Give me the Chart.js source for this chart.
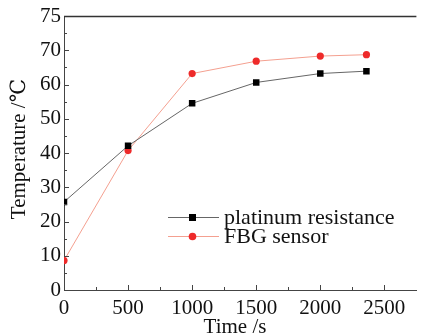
<!DOCTYPE html>
<html>
<head>
<meta charset="utf-8">
<script src="https://cdn.jsdelivr.net/npm/chart.js@4"></script>
<style>
  html, body { margin: 0; padding: 0; background: #fff; }
  #wrap { width: 421px; height: 336px; }
</style>
</head>
<body>
<div id="wrap"><canvas id="chart" width="421" height="336"></canvas></div>
<script>
// Data
const timeSec = [0, 500, 1000, 1500, 2000, 2360];
const platinumTemp = [25.7, 42.1, 54.5, 60.6, 63.2, 63.9];
const fbgTemp = [8.6, 40.7, 63.2, 66.8, 68.3, 68.7];
const yTickValues = [0, 10, 20, 30, 40, 50, 60, 70, 80];
const yTickLabels = ['0', '10', '20', '30', '40', '50', '60', '70', '75'];
const xTickValues = [0, 500, 1000, 1500, 2000, 2500];
const xTickLabels = ['0', '500', '1000', '1500', '2000', '2500'];

const serif = '"Liberation Serif", "DejaVu Serif", serif';

function toPoints(xs, ys) {
    return xs.map((x, i) => ({ x: x, y: ys[i] }));
}

// Frame on top, inward ticks (major + minor), axis titles
const framePlugin = {
    id: 'frame',
    afterDraw(chart) {
        const ctx = chart.ctx;
        const area = chart.chartArea;
        const xs = chart.scales.x;
        const ys = chart.scales.y;
        ctx.save();
        ctx.strokeStyle = '#333';
        ctx.lineWidth = 1.6;
        ctx.beginPath();
        ctx.moveTo(area.left, area.top + 0.5);
        ctx.lineTo(area.right, area.top + 0.5);
        ctx.stroke();

        ctx.lineWidth = 1;
        ctx.strokeStyle = '#444';
        ctx.beginPath();
        for (let v = 250; v < 2750; v += 250) {
            const px = Math.round(xs.getPixelForValue(v)) + 0.5;
            const len = v % 500 === 0 ? 5 : 3;
            ctx.moveTo(px, area.bottom);
            ctx.lineTo(px, area.bottom - len);
        }
        for (let v = 5; v < 80; v += 5) {
            const py = Math.round(ys.getPixelForValue(v)) + 0.5;
            const len = v % 10 === 0 ? 5 : 3;
            ctx.moveTo(area.left, py);
            ctx.lineTo(area.left + len, py);
        }
        ctx.stroke();

        // axis titles
        ctx.fillStyle = '#111';
        ctx.font = '21px ' + serif;
        ctx.textAlign = 'center';
        ctx.textBaseline = 'middle';
        ctx.fillText('Time /s', 235, 327);
        ctx.translate(19, 149);
        ctx.rotate(-Math.PI / 2);
        ctx.fillText('Temperature /℃', 0, 0);
        ctx.restore();
    }
};

// Legend with line + marker, like the original plot
const legendPlugin = {
    id: 'lineLegend',
    afterDraw(chart) {
        const ctx = chart.ctx;
        const rows = [217, 236];
        ctx.save();
        chart.data.datasets.forEach((ds, i) => {
            const y = rows[i];
            ctx.strokeStyle = ds.borderColor;
            ctx.lineWidth = 1;
            ctx.beginPath();
            ctx.moveTo(168, y + 0.5);
            ctx.lineTo(219, y + 0.5);
            ctx.stroke();
            ctx.fillStyle = ds.pointBackgroundColor;
            if (ds.pointStyle === 'rect') {
                ctx.fillRect(189, y - 3, 7, 7);
            } else {
                ctx.beginPath();
                ctx.arc(192.5, y + 0.5, 3.8, 0, Math.PI * 2);
                ctx.fill();
            }
            ctx.fillStyle = '#111';
            ctx.font = '22px ' + serif;
            ctx.textBaseline = 'middle';
            ctx.fillText(ds.label, 224, y + 1);
        });
        ctx.restore();
    }
};

new Chart(document.getElementById('chart'), {
    type: 'line',
    data: {
        datasets: [{
            label: 'platinum resistance',
            data: toPoints(timeSec, platinumTemp),
            borderColor: '#666',
            borderWidth: 1,
            pointStyle: 'rect',
            pointRadius: 4.6,
            pointBackgroundColor: '#000',
            pointBorderColor: '#000',
            pointBorderWidth: 0
        }, {
            label: 'FBG sensor',
            data: toPoints(timeSec, fbgTemp),
            borderColor: '#f4a090',
            borderWidth: 1,
            pointStyle: 'circle',
            pointRadius: 3.6,
            pointBackgroundColor: '#ee2a2a',
            pointBorderColor: '#ee2a2a',
            pointBorderWidth: 0
        }]
    },
    options: {
        responsive: false,
        animation: false,
        layout: { padding: { top: 16, right: 0, left: 0, bottom: 0 } },
        plugins: {
            legend: { display: false },
            tooltip: { enabled: false }
        },
        scales: {
            x: {
                type: 'linear',
                min: 0,
                max: 2750,
                afterFit: s => { s.height = 46; },
                afterBuildTicks: s => { s.ticks = xTickValues.map(v => ({ value: v })); },
                grid: { display: false, drawTicks: false },
                border: { display: true, color: '#444', width: 1 },
                ticks: {
                    autoSkip: false,
                    padding: 6,
                    color: '#111',
                    font: { family: serif, size: 21 },
                    maxRotation: 0,
                    callback: (v) => xTickLabels[xTickValues.indexOf(v)]
                }
            },
            y: {
                min: 0,
                max: 80,
                afterFit: s => { s.width = 64; },
                afterBuildTicks: s => { s.ticks = yTickValues.map(v => ({ value: v })); },
                grid: { display: false, drawTicks: false },
                border: { display: true, color: '#444', width: 1 },
                ticks: {
                    autoSkip: false,
                    padding: 3,
                    color: '#111',
                    font: { family: serif, size: 21 },
                    callback: (v) => yTickLabels[yTickValues.indexOf(v)]
                }
            }
        }
    },
    plugins: [framePlugin, legendPlugin]
});
</script>
</body>
</html>
